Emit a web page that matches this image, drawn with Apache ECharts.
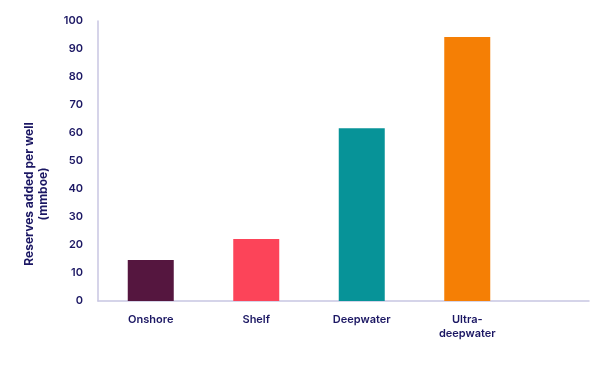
<!DOCTYPE html>
<html>
<head>
<meta charset="utf-8">
<script src="https://cdn.jsdelivr.net/npm/echarts@6/dist/echarts.min.js"></script>
<style>html,body{margin:0;padding:0;background:#fff}#c{width:600px;height:380px}</style>
</head>
<body>
<div id="c"></div>
<script>
const categories = ['Onshore', 'Shelf', 'Deepwater', 'Ultra-\ndeepwater'];
const values = [14.6, 22.1, 61.7, 94.3];
const barColors = ['#55163f', '#fc4459', '#079398', '#f57f05'];
const yTicks = { min: 0, max: 100, interval: 10 };
const yTitle = 'Reserves added per well\n(mmboe)';

const navy = '#1b1763';
const axisCol = '#c8c6e2';
const font = 'Inter, "Noto Sans", sans-serif';

const chart = echarts.init(document.getElementById('c'), null, { renderer: 'canvas' });
chart.setOption({
  animation: false,
  backgroundColor: '#ffffff',
  grid: [
    { left: 98, top: 21, width: 422, bottom: 79 },
    { left: 98, top: 21, right: 11, bottom: 79 }
  ],
  xAxis: [
    {
      type: 'category', gridIndex: 0, data: categories,
      axisLine: { show: false }, axisTick: { show: false },
      axisLabel: { color: navy, fontSize: 11, fontWeight: 600, fontFamily: font, margin: 12, lineHeight: 14 }
    },
    {
      type: 'value', gridIndex: 1, min: 0, max: 1,
      axisLine: { show: true, lineStyle: { color: axisCol, width: 1.5 } },
      axisTick: { show: false }, axisLabel: { show: false }, splitLine: { show: false }
    }
  ],
  yAxis: [
    {
      type: 'value', gridIndex: 0, min: yTicks.min, max: yTicks.max, interval: yTicks.interval,
      axisLine: { show: true, lineStyle: { color: axisCol, width: 1.5 } },
      axisTick: { show: false }, splitLine: { show: false },
      axisLabel: { color: navy, fontSize: 11, fontWeight: 600, fontFamily: font, margin: 15 }
    },
    {
      type: 'value', gridIndex: 1, min: 0, max: 1, show: false
    }
  ],
  graphic: [{
    type: 'text', x: 36, y: 194, rotation: Math.PI / 2,
    style: { text: yTitle, fill: navy, font: '700 12px ' + font, align: 'center', verticalAlign: 'middle', lineHeight: 14 }
  }],
  series: [{
    type: 'bar', xAxisIndex: 0, yAxisIndex: 0, barWidth: 46,
    data: values.map((v, i) => ({ value: v, itemStyle: { color: barColors[i] } }))
  }]
});
</script>
</body>
</html>
